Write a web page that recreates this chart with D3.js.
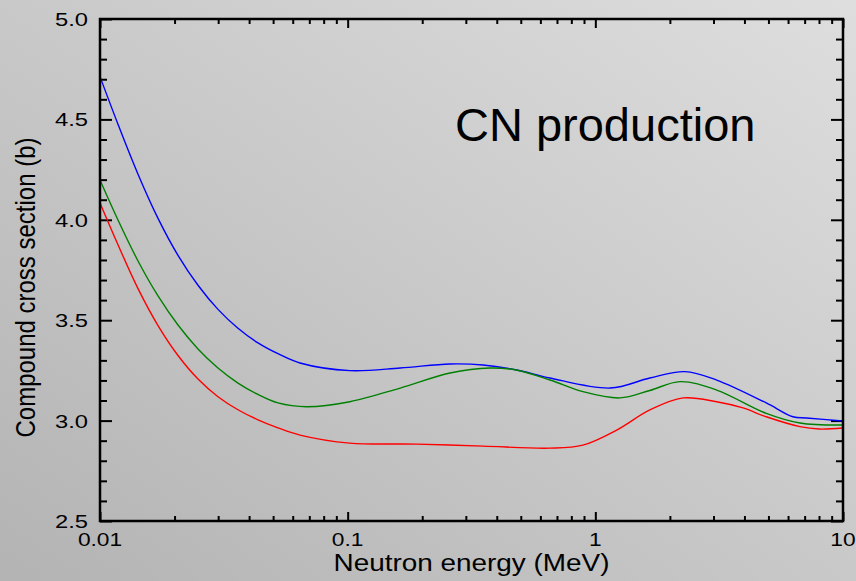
<!DOCTYPE html>
<html>
<head>
<meta charset="utf-8">
<script src="https://cdn.jsdelivr.net/npm/d3@7"></script>
<style>
  html, body { margin: 0; padding: 0; background: #c8c8c8; }
  svg { display: block; }
  text { font-family: "Liberation Sans", Arial, Helvetica, sans-serif; fill: #000; }
</style>
</head>
<body>
<svg id="chart" width="856" height="581"></svg>
<script>
// ---------- data ----------
const blueE = [0.01, 0.01182, 0.01424, 0.01715, 0.02065, 0.02487, 0.02995, 0.03607, 0.04344, 0.05232, 0.0642, 0.102, 0.163, 0.259, 0.352, 0.482, 0.656, 1.15, 1.66, 2.3, 3.09, 4.9, 6.28, 7.13, 10];
const blueV = [4.713, 4.476, 4.227, 4.007, 3.823, 3.674, 3.554, 3.460, 3.387, 3.333, 3.287, 3.249, 3.262, 3.282, 3.277, 3.252, 3.212, 3.162, 3.212, 3.244, 3.202, 3.088, 3.019, 3.013, 2.998];

const greenE = [0.01, 0.01182, 0.01424, 0.01715, 0.02065, 0.02487, 0.02995, 0.03607, 0.04344, 0.05232, 0.0683, 0.102, 0.163, 0.259, 0.375, 0.479, 0.656, 0.891, 1.257, 1.66, 2.2, 3.09, 4.9, 6.7, 10];
const greenV = [4.198, 3.999, 3.795, 3.621, 3.476, 3.357, 3.262, 3.187, 3.130, 3.088, 3.069, 3.094, 3.162, 3.237, 3.262, 3.252, 3.202, 3.144, 3.113, 3.15, 3.194, 3.152, 3.036, 2.988, 2.978];

const redE = [0.01, 0.01182, 0.01424, 0.01715, 0.02065, 0.02487, 0.02995, 0.03607, 0.04344, 0.05232, 0.0642, 0.102, 0.19, 0.352, 0.656, 0.891, 1.22, 1.66, 2.26, 3.09, 3.95, 4.9, 6.7, 8.0, 10];
const redV = [4.084, 3.876, 3.657, 3.473, 3.324, 3.207, 3.119, 3.054, 3.004, 2.964, 2.928, 2.888, 2.883, 2.873, 2.863, 2.878, 2.953, 3.053, 3.113, 3.094, 3.063, 3.019, 2.97, 2.958, 2.963];

const xMajorTicks = [0.01, 0.1, 1, 10];
const xTickLabels = ["0.01", "0.1", "1", "10"];
const yMajorTicks = [2.5, 3.0, 3.5, 4.0, 4.5, 5.0];
const yTickLabels = ["2.5", "3.0", "3.5", "4.0", "4.5", "5.0"];

const titleText = "CN production";
const xTitle = "Neutron energy (MeV)";
const yTitle = "Compound cross section (b)";

// ---------- layout ----------
const W = 856, H = 581;
const L = 100, R = 843, T = 19, B = 521;

const svg = d3.select("#chart");

// background gradient
const defs = svg.append("defs");
const grad = defs.append("linearGradient").attr("id", "bg")
  .attr("x1", "1").attr("y1", "0").attr("x2", "0").attr("y2", "1");
grad.append("stop").attr("offset", "0").attr("stop-color", "#dedede");
grad.append("stop").attr("offset", "1").attr("stop-color", "#b3b3b3");
svg.append("rect").attr("width", W).attr("height", H).attr("fill", "url(#bg)");

const x = d3.scaleLog().domain([0.01, 10]).range([L, R]);
const y = d3.scaleLinear().domain([2.5, 5.0]).range([B, T]);

// minor tick values
const xMinor = [];
[0.01, 0.1, 1].forEach(d => { for (let k = 2; k <= 9; k++) xMinor.push(+(k * d).toPrecision(3)); });
const yMinor = d3.range(25, 51).map(v => v / 10).filter(v => Math.abs(v * 2 - Math.round(v * 2)) > 1e-6);

function tickAxis(axisFn, scale, values, size, transform) {
  const g = svg.append("g").attr("transform", transform)
    .call(axisFn(scale).tickValues(values).tickSize(size).tickFormat(""));
  g.select(".domain").remove();
  g.selectAll(".tick line").attr("stroke", "#000").attr("stroke-width", 2);
}
// bottom & top (inward)
tickAxis(d3.axisBottom, x, xMinor, -5, `translate(0,${B})`);
tickAxis(d3.axisBottom, x, xMajorTicks, -9, `translate(0,${B})`);
tickAxis(d3.axisTop, x, xMinor, -5, `translate(0,${T})`);
tickAxis(d3.axisTop, x, xMajorTicks, -9, `translate(0,${T})`);
// left & right (inward)
tickAxis(d3.axisLeft, y, yMinor, -7, `translate(${L},0)`);
tickAxis(d3.axisLeft, y, yMajorTicks, -12, `translate(${L},0)`);
tickAxis(d3.axisRight, y, yMinor, -7, `translate(${R},0)`);
tickAxis(d3.axisRight, y, yMajorTicks, -12, `translate(${R},0)`);

// curves
const line = (E, V) => d3.line()
  .x((d, i) => x(E[i])).y((d, i) => y(V[i]))
  .curve(d3.curveCatmullRom.alpha(0.5))(V);

const series = [
  { E: blueE, V: blueV, color: "#0000ff" },
  { E: greenE, V: greenV, color: "#008000" },
  { E: redE, V: redV, color: "#ff0000" }
];
svg.append("g").selectAll("path").data(series).join("path")
  .attr("d", s => line(s.E, s.V))
  .attr("fill", "none")
  .attr("stroke", s => s.color)
  .attr("stroke-width", 1.4);

// frame
svg.append("rect").attr("x", L).attr("y", T).attr("width", R - L).attr("height", B - T)
  .attr("fill", "none").attr("stroke", "#000").attr("stroke-width", 2.5);

// tick labels
svg.append("g").selectAll("text").data(xMajorTicks).join("text")
  .attr("transform", d => `translate(${x(d)},546) scale(1.3,1)`)
  .attr("text-anchor", "middle")
  .style("font-size", "17.5px")
  .text((d, i) => xTickLabels[i]);

svg.append("g").selectAll("text").data(yMajorTicks).join("text")
  .attr("transform", d => `translate(88,${y(d) + 7}) scale(1.25,1)`)
  .attr("text-anchor", "end")
  .style("font-size", "19px")
  .text((d, i) => yTickLabels[i]);

// axis titles
svg.append("text")
  .attr("transform", `translate(${(L + R) / 2},571) scale(1.163,1)`)
  .attr("text-anchor", "middle")
  .style("font-size", "24px")
  .text(xTitle);

svg.append("text")
  .attr("transform", `translate(35,287.5) rotate(-90) scale(1,1.17)`)
  .attr("text-anchor", "middle")
  .style("font-size", "24px")
  .text(yTitle);

// in-plot title
svg.append("text")
  .attr("x", 455).attr("y", 141)
  .style("font-size", "47px")
  .text(titleText);
</script>
</body>
</html>
